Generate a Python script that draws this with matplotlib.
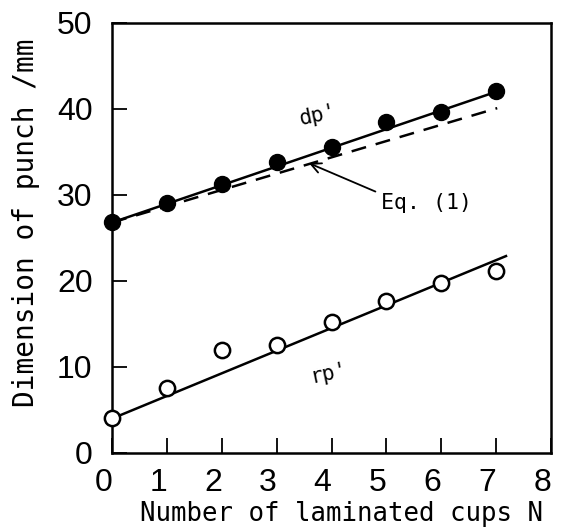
import matplotlib
matplotlib.use("Agg")
import matplotlib.pyplot as plt
import warnings
warnings.filterwarnings("ignore")

# Data
N = [0, 1, 2, 3, 4, 5, 6, 7]
dp = [26.9, 29.1, 31.3, 33.8, 35.6, 38.5, 39.7, 42.1]
rp = [4.1, 7.6, 12.0, 12.6, 15.2, 17.7, 19.8, 21.2]

dp_fit_x = [0, 7.0]
dp_fit_y = [26.8, 42.0]
rp_fit_x = [0, 7.18]
rp_fit_y = [4.0, 22.9]
eq1_x = [0, 7.02]
eq1_y = [26.8, 40.1]

xticks = [0, 1, 2, 3, 4, 5, 6, 7, 8]
yticks = [0, 10, 20, 30, 40, 50]

tick_font = ['Liberation Sans']
label_font = ['DejaVu Sans Mono']

fig = plt.figure(figsize=(5.65, 5.30), dpi=100)
ax = fig.add_axes([112/565, 1 - 453/530, (551-112)/565, (453-23)/530])

ax.plot(dp_fit_x, dp_fit_y, color='black', lw=1.8, solid_capstyle='butt')
ax.plot(eq1_x, eq1_y, color='black', lw=1.8, dashes=(6, 4))
ax.plot(rp_fit_x, rp_fit_y, color='black', lw=1.8)
ax.plot(N, dp, 'o', color='black', ms=11.5, clip_on=False, zorder=5)
ax.plot(N, rp, 'o', mfc='white', mec='black', mew=1.8, ms=11, clip_on=False, zorder=5)

ax.set_xlim(0, 8)
ax.set_ylim(0, 50)
ax.set_xticks(xticks)
ax.set_yticks(yticks)
ax.set_xticklabels([str(t) for t in xticks], family=tick_font, fontsize=23, ha='right')
ax.set_yticklabels([str(t) for t in yticks], family=tick_font, fontsize=23)
ax.tick_params(axis='both', direction='in', length=11, width=1.3, top=False, right=False)
ax.tick_params(axis='x', pad=11)
ax.tick_params(axis='y', pad=14)
for sp in ax.spines.values():
    sp.set_linewidth(1.8)

ax.set_xlabel('Number of laminated cups N', family=label_font, fontsize=18.5)
ax.xaxis.set_label_coords((342 - 112) / 439, -0.112)
ax.set_ylabel('Dimension of punch /mm', family=label_font, fontsize=20)
ax.yaxis.set_label_coords((40 - 112) / 439, 0.535)

ax.text(3.76, 39.3, "dp'", family=label_font, fontsize=15, ha='center', va='center', rotation=12)
ax.text(3.95, 9.3, "rp'", family=label_font, fontsize=15, ha='center', va='center', rotation=12)
ax.text(5.74, 29.1, 'Eq. (1)', family=label_font, fontsize=15.5, ha='center', va='center')
ax.annotate('', xy=(3.59, 33.7), xytext=(4.8, 30.4),
            arrowprops=dict(arrowstyle='->', color='black', lw=1.3,
                            shrinkA=0, shrinkB=0, mutation_scale=18))

fig.savefig('out.png', dpi=100)
